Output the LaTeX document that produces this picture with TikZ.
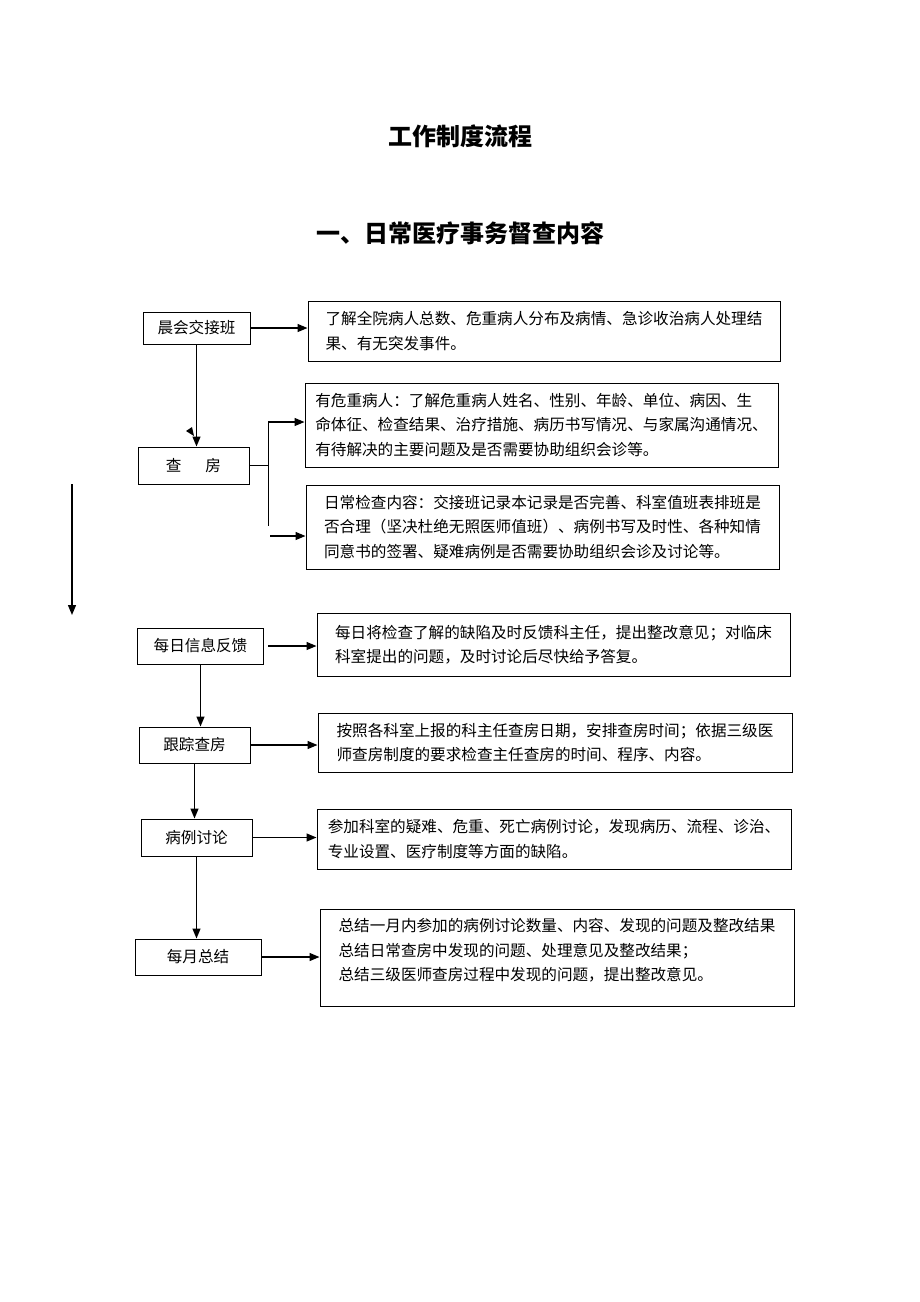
\documentclass[tikz,border=0pt]{standalone}
\usepackage{fontspec}
\setmainfont{Noto Sans CJK SC}
\usetikzlibrary{arrows.meta}
\begin{document}
\begin{tikzpicture}[x=1pt, y=-1pt,
    >={Triangle[length=10pt,width=8pt]},
    stepbox/.style={draw, line width=1pt, inner sep=0pt, font=\fontsize{15.6}{24.5}\selectfont},
    descbox/.style={draw, line width=1pt, inner sep=0pt, align=left, font=\fontsize{15.6}{24.5}\selectfont},
    link/.style={->, line width=1.3pt}]
        \useasboundingbox (0, 0) rectangle (920, 1302);

        \node (title) at (460, 136) {\fontsize{24}{28}\selectfont\bfseries 工作制度流程};
        \node (sub) at (460, 233) {\fontsize{24}{28}\selectfont\bfseries 一、日常医疗事务督查内容};

        \node[stepbox, minimum width=107, minimum height=32] (morning) at (196.5, 328) {晨会交接班};
        \node[stepbox, minimum width=111, minimum height=37] (rounds) at (193.5, 465.5) {查\hspace{24pt}房};
        \node[stepbox, minimum width=126, minimum height=36] (feedback) at (200.5, 646) {每日信息反馈};
        \node[stepbox, minimum width=111, minimum height=36] (track) at (194.5, 745) {跟踪查房};
        \node[stepbox, minimum width=111, minimum height=37] (cases) at (196.5, 837.5) {病例讨论};
        \node[stepbox, minimum width=126, minimum height=36] (monthly) at (198, 957) {每月总结};

        \node[descbox, minimum width=472, minimum height=60] (dmorning) at (544, 331)
          {了解全院病人总数、危重病人分布及病情、急诊收治病人处理结\\果、有无突发事件。};
        \node[descbox, minimum width=473, minimum height=84] (dcritical) at (541.5, 425)
          {有危重病人：了解危重病人姓名、性别、年龄、单位、病因、生\\命体征、检查结果、治疗措施、病历书写情况、与家属沟通情况、\\有待解决的主要问题及是否需要协助组织会诊等。};
        \node[descbox, minimum width=473, minimum height=84] (droutine) at (542.5, 527)
          {日常检查内容：交接班记录本记录是否完善、科室值班表排班是\\否合理（坚决杜绝无照医师值班）、病例书写及时性、各种知情\\同意书的签署、疑难病例是否需要协助组织会诊及讨论等。};
        \node[descbox, minimum width=473, minimum height=63] (dfeedback) at (553.5, 644.5)
          {每日将检查了解的缺陷及时反馈科主任，提出整改意见；对临床\\科室提出的问题，及时讨论后尽快给予答复。};
        \node[descbox, minimum width=474, minimum height=59] (dtrack) at (555, 742.5)
          {按照各科室上报的科主任查房日期，安排查房时间；依据三级医\\师查房制度的要求检查主任查房的时间、程序、内容。};
        \node[descbox, minimum width=474, minimum height=60] (dcases) at (554, 839)
          {参加科室的疑难、危重、死亡病例讨论，发现病历、流程、诊治、\\专业设置、医疗制度等方面的缺陷。};
        \node[descbox, minimum width=474, minimum height=97, text depth=16pt] (dmonthly) at (557, 957.5)
          {总结一月内参加的病例讨论数量、内容、发现的问题及整改结果\\总结日常查房中发现的问题、处理意见及整改结果；\\总结三级医师查房过程中发现的问题，提出整改意见。};

        \coordinate (forktop) at (268, 422);
        \coordinate (forkbot) at (268, 526);
        \coordinate (forklow) at (270, 536);
        \coordinate (straytop) at (72, 484);
        \coordinate (straybot) at (72, 615);

        \draw[link] (morning.east) -- (morning.east -| dmorning.west);
        \draw[link] (morning.south) -- (morning.south |- rounds.north);
        \draw[line width=1pt] (rounds.east) -- (rounds.east -| forktop);
        \draw[line width=1pt] (forktop) -- (forkbot);
        \draw[link] (forktop) -- (forktop -| dcritical.west);
        \draw[link] (forklow) -- (forklow -| droutine.west);
        \fill (186, 431) -- (192, 427) -- (194, 436) -- cycle;
        \draw[link] (straytop) -- (straybot);

        \draw[link] ([xshift=4pt]feedback.east) -- (feedback.east -| dfeedback.west);
        \draw[link] (feedback.south) -- (feedback.south |- track.north);
        \draw[link] (track.east) -- (track.east -| dtrack.west);
        \draw[link] (track.south) -- (track.south |- cases.north);
        \draw[link] (cases.east) -- (cases.east -| dcases.west);
        \draw[link] (cases.south) -- (cases.south |- monthly.north);
        \draw[link] (monthly.east) -- (monthly.east -| dmonthly.west);
      \end{tikzpicture}
\end{document}
